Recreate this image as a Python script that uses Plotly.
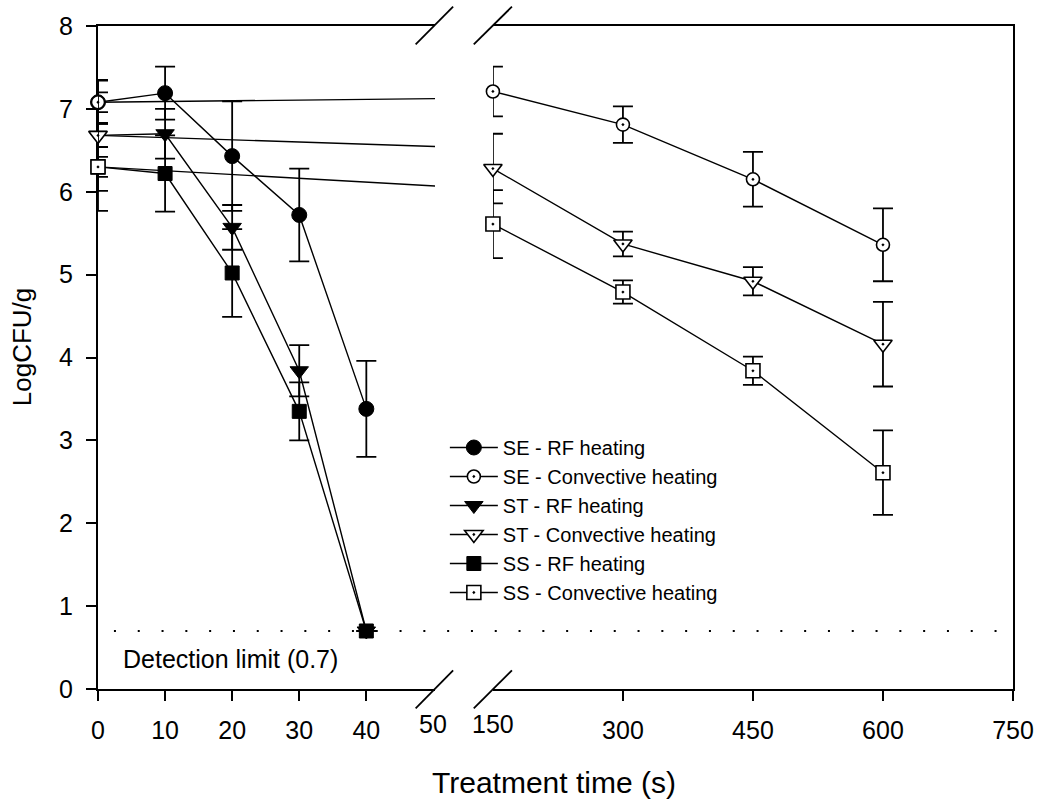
import plotly.graph_objects as go

# ---------------- data ----------------
t_rf = [0, 10, 20, 30, 40]
se_rf = [7.08, 7.19, 6.43, 5.72, 3.38]
se_rf_err = [0.26, 0.32, 0.66, 0.56, 0.58]
st_rf = [6.68, 6.70, 5.57, 3.84, 0.70]
st_rf_err = [0.14, 0.30, 0.27, 0.31, 0.0]
ss_rf = [6.30, 6.22, 5.02, 3.35, 0.70]
ss_rf_err = [0.12, 0.46, 0.53, 0.35, 0.0]

t_conv = [0, 150, 300, 450, 600]
se_conv = [7.08, 7.21, 6.81, 6.15, 5.36]
se_conv_err = [0.12, 0.30, 0.22, 0.33, 0.44]
st_conv = [6.68, 6.28, 5.37, 4.92, 4.16]
st_conv_err = [0.67, 0.42, 0.15, 0.17, 0.51]
ss_conv = [6.30, 5.61, 4.79, 3.84, 2.61]
ss_conv_err = [0.53, 0.41, 0.14, 0.17, 0.51]

detection_limit = 0.7
left_ticks = [0, 10, 20, 30, 40]
right_ticks = [300, 450, 600, 750]
break_labels = [("50", "x", 50), ("150", "x2", 150)]
y_ticks = [0, 1, 2, 3, 4, 5, 6, 7, 8]

FONT = "Arial, Liberation Sans, sans-serif"
W, H = 1046, 802
ML, MR, MT, MB = 98, 30, 26, 113
PW, PH = W - ML - MR, H - MT - MB


def px(xp):
    return (xp - ML) / PW


def py(yp):
    return (H - MB - yp) / PH


fig = go.Figure()

line_style = dict(color="black", width=1.4)
err_style = dict(type="data", color="black", thickness=1.8, width=10)

rf_series = [
    ("SE - RF heating", se_rf, se_rf_err, "circle", 15, 1),
    ("ST - RF heating", st_rf, st_rf_err, "triangle-down", 16, 3),
    ("SS - RF heating", ss_rf, ss_rf_err, "square", 14, 5),
]
conv_series = [
    ("SE - Convective heating", se_conv, se_conv_err, "circle-dot", 13, 2),
    ("ST - Convective heating", st_conv, st_conv_err, "triangle-down-dot", 16, 4),
    ("SS - Convective heating", ss_conv, ss_conv_err, "square-dot", 14, 6),
]

# convective lines from 0 -> 150 on the left panel (clipped at axis end)
for name, y, e, sym, sz, rank in conv_series:
    fig.add_trace(go.Scatter(
        x=t_conv[:2], y=y[:2], mode="lines", line=line_style,
        xaxis="x", yaxis="y", showlegend=False, hoverinfo="skip"))

# RF series (left panel)
for name, y, e, sym, sz, rank in rf_series:
    fig.add_trace(go.Scatter(
        x=t_rf, y=y, name=name, mode="lines+markers", line=line_style,
        marker=dict(symbol=sym, size=sz, color="black",
                    line=dict(color="black", width=1)),
        error_y=dict(array=e, **err_style), cliponaxis=False,
        xaxis="x", yaxis="y", legendrank=rank, showlegend=True))

# convective markers at t=0 (left panel)
for name, y, e, sym, sz, rank in conv_series:
    fig.add_trace(go.Scatter(
        x=t_conv[:1], y=y[:1], mode="markers",
        marker=dict(symbol=sym, size=sz, color="white",
                    line=dict(color="black", width=1.6)),
        error_y=dict(array=e[:1], **err_style), cliponaxis=False,
        xaxis="x", yaxis="y", showlegend=False))

# convective series (right panel)
for name, y, e, sym, sz, rank in conv_series:
    fig.add_trace(go.Scatter(
        x=t_conv[1:], y=y[1:], name=name, mode="lines+markers", line=line_style,
        marker=dict(symbol=sym, size=sz, color="white",
                    line=dict(color="black", width=1.6)),
        error_y=dict(array=e[1:], **err_style), cliponaxis=False,
        xaxis="x2", yaxis="y2", legendrank=rank, showlegend=True))

axis_common = dict(showline=True, linecolor="black", linewidth=2,
                   showgrid=False, zeroline=False, layer="below traces",
                   tickfont=dict(family=FONT, size=25, color="black"))

left_end = 0.3684
right_start = 0.4316

fig.update_layout(
    width=W, height=H,
    margin=dict(l=ML, r=MR, t=MT, b=MB, pad=0),
    paper_bgcolor="white", plot_bgcolor="white",
    font=dict(family=FONT, color="black"),
    xaxis=dict(domain=[0, left_end], range=[0, 50.25], anchor="y",
               tickvals=left_ticks, ticks="outside", ticklen=10, tickwidth=1.8,
               tickcolor="black", mirror=True, ticklabelstandoff=8, **axis_common),
    xaxis2=dict(domain=[right_start, 1], range=[150, 750], anchor="y2",
                tickvals=right_ticks, ticks="outside", ticklen=10, tickwidth=1.8,
                tickcolor="black", mirror=True, ticklabelstandoff=8, **axis_common),
    yaxis=dict(range=[0, 8], tickvals=y_ticks, ticks="outside", ticklen=10,
               tickwidth=1.8, tickcolor="black", anchor="x",
               ticklabelstandoff=8, **axis_common),
    yaxis2=dict(range=[0, 8], matches="y", anchor="x2", side="right",
                ticks="", showticklabels=False, **axis_common),
    legend=dict(x=px(446), y=py(428), xanchor="left", yanchor="top",
                font=dict(family=FONT, size=20, color="black"),
                bgcolor="rgba(0,0,0,0)", borderwidth=0, itemwidth=48,
                tracegroupgap=0, traceorder="normal"),
    showlegend=True,
)

# axis break labels (50 and 150), placed like tick labels
for txt, xr, xv in break_labels:
    fig.add_annotation(text=txt, x=xv, xref=xr, y=0, yref="paper",
                       yanchor="top", yshift=-19, showarrow=False,
                       font=dict(family=FONT, size=25, color="black"))

# detection limit
fig.add_shape(type="line", xref="paper", yref="y", x0=px(114), x1=1,
              y0=detection_limit, y1=detection_limit,
              line=dict(color="black", width=2, dash="2px,21.8px"))
fig.add_annotation(text="Detection limit (0.7)", xref="paper", yref="paper",
                   x=px(121), y=py(659), xanchor="left", yanchor="middle",
                   showarrow=False, font=dict(family=FONT, size=25, color="black"))

# break marks
for x0p, x1p in [(416.7, 454.3), (475, 513.3)]:
    for y0p, y1p in [(708.3, 670.3), (44.3, 6.7)]:
        fig.add_shape(type="line", xref="paper", yref="paper",
                      x0=px(x0p), x1=px(x1p), y0=py(y0p), y1=py(y1p),
                      line=dict(color="black", width=1.8))

# axis titles
fig.add_annotation(text="Treatment time (s)", xref="paper", yref="paper",
                   x=px(555), y=py(782), xanchor="center", yanchor="middle",
                   showarrow=False, font=dict(family=FONT, size=30, color="black"))
fig.add_annotation(text="LogCFU/g", xref="paper", yref="paper",
                   x=px(22), y=py(347), xanchor="center", yanchor="middle",
                   textangle=-90, showarrow=False,
                   font=dict(family=FONT, size=26, color="black"))

fig.write_html("out.html")
